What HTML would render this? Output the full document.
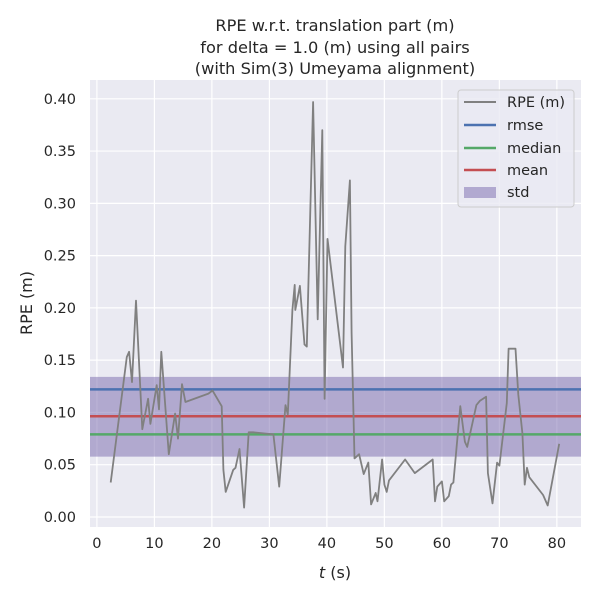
<!DOCTYPE html>
<html><head><meta charset="utf-8"><style>
html,body{margin:0;padding:0;background:#fff;}
svg{display:block;font-family:"DejaVu Sans","Liberation Sans",sans-serif;}
</style></head><body>
<svg id="chart" width="600" height="600" viewBox="0 0 600 600" xmlns="http://www.w3.org/2000/svg">
<rect x="0" y="0" width="600" height="600" fill="#ffffff"/>
<text x="335" y="31" font-size="16.2" text-anchor="middle" fill="#262626">RPE w.r.t. translation part (m)</text>
<text x="335" y="53" font-size="16.2" text-anchor="middle" fill="#262626">for delta = 1.0 (m) using all pairs</text>
<text x="335" y="74" font-size="16.2" text-anchor="middle" fill="#262626">(with Sim(3) Umeyama alignment)</text>
<rect x="90" y="80" width="491" height="447" fill="#eaeaf2"/>
<g id="grid"></g>
<g id="bands"></g>
<g id="series"></g>
<g id="ticks"></g>
<text x="335" y="578" font-size="16" text-anchor="middle" fill="#262626"><tspan font-style="italic">t</tspan> (s)</text>
<text x="32" y="303" font-size="16" text-anchor="middle" fill="#262626" transform="rotate(-90 32 303)">RPE (m)</text>
<g>
<rect x="458" y="90" width="116" height="117" rx="3" fill="#eaeaf2" fill-opacity="0.8" stroke="#cccccc"/>
<line x1="464" y1="102" x2="496" y2="102" stroke="#808080" stroke-width="2"/>
<text x="507" y="107" font-size="14.5" fill="#262626">RPE (m)</text>
<line x1="464" y1="125" x2="496" y2="125" stroke="#4c72b0" stroke-width="2.5"/>
<text x="507" y="130" font-size="14.5" fill="#262626">rmse</text>
<line x1="464" y1="148" x2="496" y2="148" stroke="#55a868" stroke-width="2.5"/>
<text x="507" y="153" font-size="14.5" fill="#262626">median</text>
<line x1="464" y1="170" x2="496" y2="170" stroke="#c44e52" stroke-width="2.5"/>
<text x="507" y="175" font-size="14.5" fill="#262626">mean</text>
<rect x="464" y="187" width="32" height="11" fill="#8172b3" fill-opacity="0.55"/>
<text x="507" y="197" font-size="14.5" fill="#262626">std</text>
</g>
</svg>
<script>
const times = [2.4,5.2,5.6,6.1,6.8,7.9,8.9,9.3,10.4,10.8,11.2,12.5,13.6,14.1,14.8,15.4,19.4,20.1,21.7,22.0,22.4,23.7,24.1,24.8,25.6,26.4,27.2,30.7,31.7,32.8,33.2,34.0,34.4,34.5,35.3,36.1,36.5,37.6,38.4,39.2,39.6,40.1,42.8,43.2,44.0,44.3,44.8,45.6,46.4,47.2,47.7,48.5,48.8,49.6,50.0,50.4,50.8,53.6,55.3,58.4,58.8,59.2,60.0,60.4,61.2,61.6,62.0,63.2,64.0,64.4,66.0,66.6,67.7,68.0,68.8,69.6,70.0,71.3,71.6,72.8,73.3,74.0,74.4,74.8,75.2,77.6,78.4,80.4];
const rpeValues = [0.033,0.153,0.158,0.129,0.207,0.084,0.113,0.089,0.126,0.103,0.158,0.060,0.099,0.075,0.127,0.110,0.118,0.121,0.106,0.045,0.024,0.045,0.047,0.065,0.009,0.081,0.081,0.079,0.029,0.107,0.098,0.198,0.222,0.198,0.221,0.165,0.163,0.397,0.189,0.370,0.113,0.266,0.143,0.259,0.322,0.176,0.056,0.060,0.041,0.052,0.012,0.023,0.015,0.055,0.031,0.024,0.035,0.055,0.042,0.055,0.015,0.029,0.034,0.015,0.020,0.031,0.033,0.106,0.072,0.067,0.107,0.111,0.115,0.042,0.013,0.052,0.049,0.109,0.161,0.161,0.117,0.080,0.031,0.047,0.038,0.021,0.011,0.070];
const statNames = ["rmse","median","mean"];
const statValues = [0.122,0.079,0.0964];
const stdBand = [0.0577,0.134];
const xTickValues = [0,10,20,30,40,50,60,70,80];
const xTickLabels = ["0","10","20","30","40","50","60","70","80"];
const yTickValues = [0,0.05,0.10,0.15,0.20,0.25,0.30,0.35,0.40];
const yTickLabels = ["0.00","0.05","0.10","0.15","0.20","0.25","0.30","0.35","0.40"];

const NS="http://www.w3.org/2000/svg";
const X0=90,X1=581,Y0=80,Y1=527;
const xMin=-1.2,xMax=84.2,yMin=-0.0096,yMax=0.418;
function xs(t){return X0+(t-xMin)/(xMax-xMin)*(X1-X0);}
function ys(v){return Y1-(v-yMin)/(yMax-yMin)*(Y1-Y0);}
function mk(tag,attrs,parent){const e=document.createElementNS(NS,tag);for(const k in attrs)e.setAttribute(k,attrs[k]);parent.appendChild(e);return e;}
const grid=document.getElementById('grid'),ticks=document.getElementById('ticks'),bands=document.getElementById('bands'),series=document.getElementById('series');
xTickValues.forEach((t,i)=>{
  const l=mk('line',{x1:xs(t),x2:xs(t),y1:Y0,y2:Y1,stroke:'#fff','stroke-width':1.2},grid);
  
  
  const tx=mk('text',{x:xs(t),y:Y1+21,'font-size':14.5,'text-anchor':'middle',fill:'#262626'},ticks);
  tx.textContent=xTickLabels[i];
  
  
});
yTickValues.forEach((v,i)=>{
  const l=mk('line',{x1:X0,x2:X1,y1:ys(v),y2:ys(v),stroke:'#fff','stroke-width':1.2},grid);
  
  
  const tx=mk('text',{x:X0-14,y:ys(v)+5,'font-size':14.5,'text-anchor':'end',fill:'#262626'},ticks);
  tx.textContent=yTickLabels[i];
  
  
});
const band=mk('rect',{x:X0,y:ys(stdBand[1]),width:X1-X0,height:ys(stdBand[0])-ys(stdBand[1]),fill:'#8172b3','fill-opacity':0.55},bands);


const colors={rmse:'#4c72b0',median:'#55a868',mean:'#c44e52'};
statNames.forEach((n,i)=>{
  const l=mk('line',{x1:X0,x2:X1,y1:ys(statValues[i]),y2:ys(statValues[i]),stroke:colors[n],'stroke-width':2.5},series);
  
  
});
const pts=times.map((t,i)=>xs(t).toFixed(1)+','+ys(rpeValues[i]).toFixed(1)).join(' ');
const pl=mk('polyline',{points:pts,fill:'none',stroke:'#808080','stroke-width':1.8,'stroke-linejoin':'round'},series);


</script>
</body></html>
